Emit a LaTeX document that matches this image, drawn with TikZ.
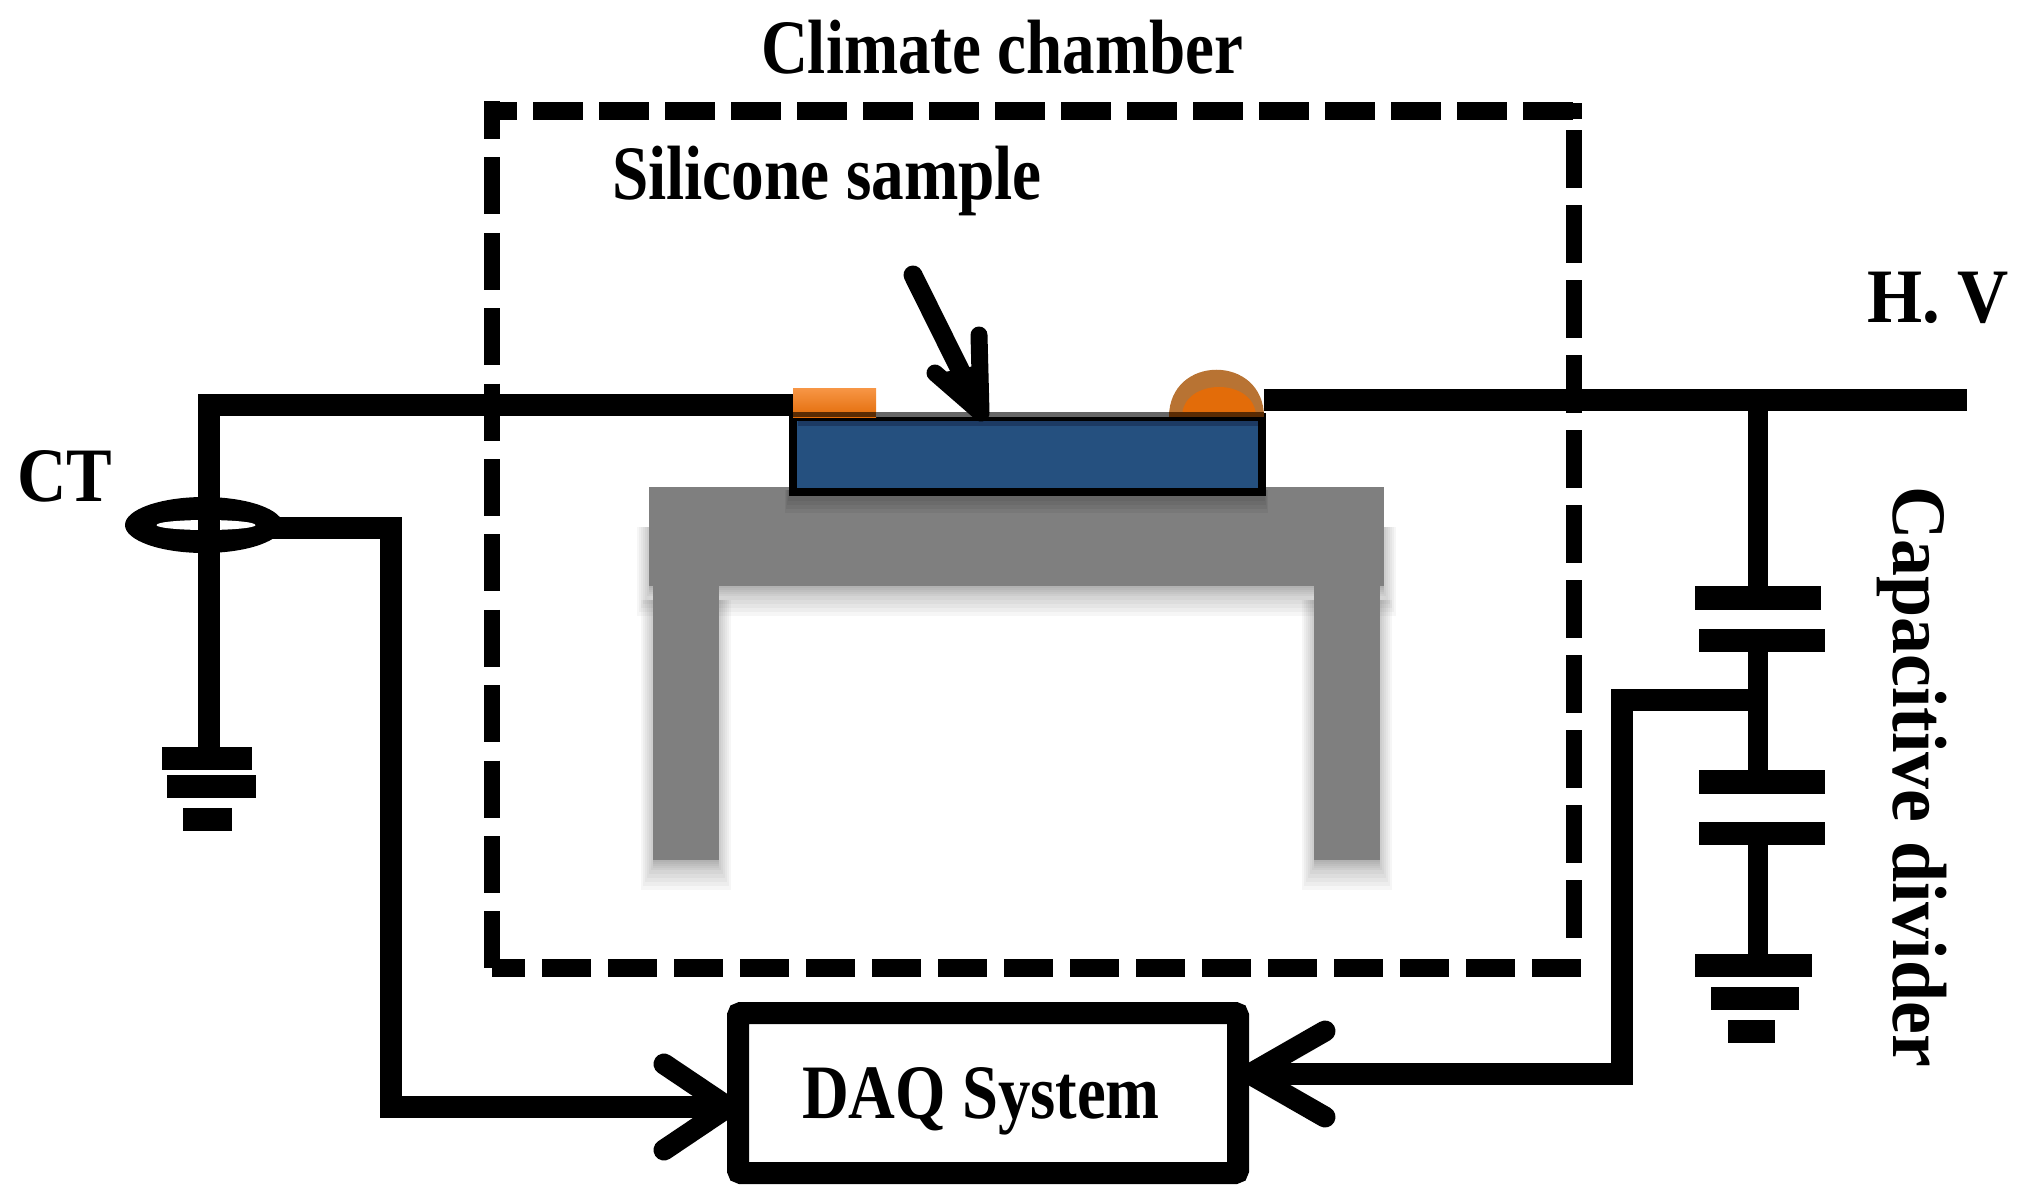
\documentclass[tikz,border=0pt]{standalone}
\usepackage{fontspec}
\usetikzlibrary{shapes.geometric}
\setmainfont{Liberation Serif}
\definecolor{tablegray}{HTML}{7F7F7F}
\definecolor{sampleblue}{HTML}{25507F}
\definecolor{sampleedge}{HTML}{1C3A63}
\definecolor{padtop}{HTML}{F79646}
\definecolor{padbottom}{HTML}{E36C09}
\definecolor{domeedge}{HTML}{B87333}
\newcommand{\softshade}[4]{%
  \foreach \s/\b in {12/30,10/26,8/22,6/18,4/14,2/10,0/8,0/6,0/4,0/2}{
    \fill[black,opacity=0.035] ({#1-\s},{#2}) rectangle ({#3+\s},{#4+\b});
  }}
\tikzset{
  wire/.style={line width=22pt,line join=miter,line cap=butt},
  chamberdash/.style={line width=#1,line cap=butt},
  plate/.style={fill=black,inner sep=0pt,outer sep=0pt,minimum height=23pt},
  label/.style={font=\fontsize{77}{80}\selectfont\bfseries,inner sep=0pt,outer sep=0pt,anchor=base west,transform shape},
  barb/.style={line width=21pt,line cap=round,line join=round},
}
\begin{document}
\begin{tikzpicture}[x=1pt,y=-1pt]
\useasboundingbox (0,0) rectangle (2022,1202);

% climate chamber
\draw[chamberdash=18pt,dash pattern=on 50pt off 16pt,dash phase=17pt] (484,110.5) -- (1523,110.5);
\draw[chamberdash=18pt] (1523,110.5) -- (1573,110.5);
\draw[chamberdash=16pt] (1566,110.5) -- (1582,110.5);
\draw[chamberdash=16pt,dash pattern=on 57pt off 18.4pt,dash phase=19pt] (492,101) -- (492,968);
\draw[chamberdash=16pt,dash pattern=on 58pt off 17pt] (1574,130) -- (1574,940);
\draw[chamberdash=18pt,dash pattern=on 49pt off 17pt,dash phase=16pt] (492,968) -- (1582,968);

% table
\softshade{649}{527}{1384}{586}
\softshade{653}{600}{719}{860}
\softshade{1314}{600}{1380}{860}
\fill[tablegray] (649,487) rectangle (1384,586);
\fill[tablegray] (653,586) rectangle (719,860);
\fill[tablegray] (1314,586) rectangle (1380,860);
\foreach \e in {2,4,6,8}{
  \fill[black,opacity=0.05] ({789-\e/2},490) rectangle ({1264+\e/2},{497+2*\e});
}

% sample and electrodes
\node[draw=black,fill=sampleblue,line width=8pt,inner sep=0pt,outer sep=0pt,
      minimum width=469pt,minimum height=75pt] (sample) at (1027.5,454.5) {};
\fill[sampleedge] (798,421) rectangle (1258,426);
\node[top color=padtop,bottom color=padbottom,inner sep=0pt,outer sep=0pt,
      minimum width=83pt,minimum height=29pt] (padL) at (834.5,402.5) {};
\fill[domeedge] (1169,417) .. controls (1169,354) and (1264,354) .. (1264,417) -- cycle;
\fill[padbottom] (1182,417) .. controls (1182,377) and (1256,377) .. (1256,417) -- cycle;
\fill[white] (876,412) rectangle (1169,417);
\fill[padbottom] (793,412) rectangle (876,417);
\fill[padbottom] (1169,412) rectangle (1264,417);
\fill[black,opacity=0.6] (793,412) rectangle (1264,417);

% named points of the circuit
\coordinate (wl) at (793,405);
\coordinate (wlc) at (209,405);
\coordinate (wr) at (1264,400);
\coordinate (hv) at (1967,400);
\coordinate (jun) at (1758,400);
\coordinate (tap) at (1758,699.5);
\coordinate (tapc) at (1621.5,699.5);
\coordinate (tapd) at (1621.5,1074);
\coordinate (ctout) at (270,527.5);
\coordinate (ctc) at (390.5,527.5);
\coordinate (ctd) at (390.5,1107);

% plates
\node[plate,minimum width=90pt] (gl1) at (207,758.5) {};
\node[plate,minimum width=89pt] (gl2) at (211.5,786.5) {};
\node[plate,minimum width=49pt] (gl3) at (207.5,819.5) {};
\node[plate,minimum width=126pt,minimum height=24pt] (c1) at (1758,598) {};
\node[plate,minimum width=126pt] (c2) at (1762,640.5) {};
\node[plate,minimum width=126pt,minimum height=24pt] (c3) at (1762,782) {};
\node[plate,minimum width=126pt] (c4) at (1762,833.5) {};
\node[plate,minimum width=117pt] (gr1) at (1753.5,965.5) {};
\node[plate,minimum width=88pt] (gr2) at (1755,998.5) {};
\node[plate,minimum width=47pt] (gr3) at (1751.5,1031.5) {};

% DAQ box
\node[draw=black,fill=white,line width=22pt,rounded corners=3pt,inner sep=0pt,outer sep=0pt,
      minimum width=500pt,minimum height=160pt] (daq) at (988,1093) {};
\coordinate (daql) at (728,1107);
\coordinate (daqr) at (1250,1074);

% current transformer
\node[fill=black,ellipse,inner sep=0pt,outer sep=0pt,
      minimum width=158pt,minimum height=56pt] (ct) at (204,525) {};
\node[fill=white,ellipse,inner sep=0pt,outer sep=0pt,
      minimum width=99pt,minimum height=10pt] (cthole) at (206,525) {};

% wires
\draw[wire] (wl) -- (wlc) -- (wlc |- gl1.north);
\draw[wire] (wr) -- (hv);
\draw[wire,line width=20pt] (jun) -- (jun |- c1.north);
\draw[wire,line width=20pt] (jun |- c2.south) -- (jun |- c3.north);
\draw[wire,line width=20pt] (jun |- c4.south) -- (jun |- gr1.north);
\draw[wire] (tap) -- (tapc) -- (tapd) -- (daqr);
\draw[wire] (ctout) -- (ctc) -- (ctd) -- (daql);

% arrowheads
\draw[barb] (664,1064) -- (daql) -- (664,1150);
\draw[barb] (1325,1031) -- (daqr) -- (1325,1117);

% sample pointer
\coordinate (ptr) at (981,413);
\draw[line width=19pt,line cap=round] (913,275) -- (975,400);
\draw[line width=17pt,line cap=round,line join=round] (979,335) -- (ptr) -- (935,373);
\fill (979,365) -- (945,372) -- (981,413) -- cycle;

% labels
\node[label,xscale=.845] (climate) at (761,73) {Climate chamber};
\node[label,xscale=.848] (silicone) at (612,199) {Silicone sample};
\node[label,xscale=.841] (daqtext) at (802,1118) {DAQ System};
\node[label,xscale=.888] (cttext) at (17,501) {CT};
\node[label,xscale=.92] (hvtext) at (1867,322) {H. V};
\node[label,rotate=-90,xscale=.96] (divider) at (1893,486) {Capacitive divider};
\end{tikzpicture}
\end{document}
